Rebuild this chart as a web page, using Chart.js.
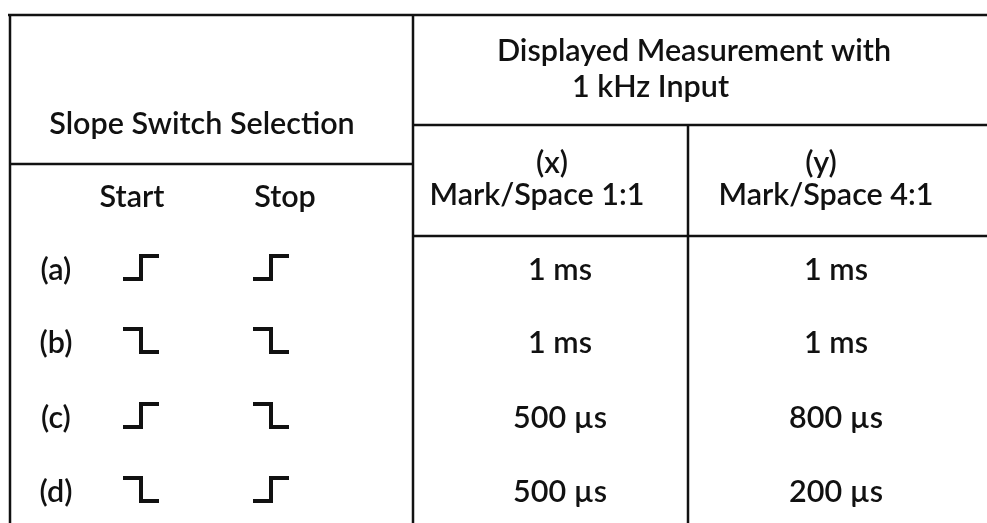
<!DOCTYPE html>
<html>
<head>
<meta charset="utf-8">
<script src="https://cdn.jsdelivr.net/npm/chart.js@4.4.1/dist/chart.umd.min.js"></script>
<style>
  html, body { margin: 0; padding: 0; background: #ffffff; }
  #wrap { width: 987px; height: 523px; position: relative; }
</style>
</head>
<body>
<div id="wrap"><canvas id="c"></canvas></div>
<script>
// ---------- data ----------
const rowLabels = ['(a)', '(b)', '(c)', '(d)'];
const startEdge = ['rise', 'fall', 'rise', 'fall'];
const stopEdge  = ['rise', 'fall', 'fall', 'rise'];
const markSpace11Us = [1000, 1000, 500, 500];   // (x) Mark/Space 1:1
const markSpace41Us = [1000, 1000, 800, 200];   // (y) Mark/Space 4:1
const headerLeft = 'Slope Switch Selection';
const subHeadersLeft = ['Start', 'Stop'];
const headerRight = ['Displayed Measurement with', '1 kHz Input'];
const seriesHeaders = [['(x)', 'Mark/Space 1:1'], ['(y)', 'Mark/Space 4:1']];

// ---------- layout (positions in scale units) ----------
const L = {
  left: 10, top: 15, split: 413, colSplit: 688, right: 987, bottom: 523,
  hdrRight: 125, hdrLeft: 164, hdrBody: 236,
  rowBase: [280, 353, 428, 502],
  rowLabelX: 56, startX: 141, stopX: 271, colX: 560, colY: 836,
  stepHalfW: 18, stepH: 23
};
const FONT_FAMILY = 'Lato, "Noto Sans", "DejaVu Sans", sans-serif';
const FONT_WEIGHT = '600';
const INK = '#111111';

function fmtTime(us) { return us >= 1000 ? (us / 1000) + ' ms' : us + ' \u00b5s'; }

// step symbol datasets (stepped lines through the chart's scales)
const stepDatasets = [];
function addStep(kind, cx, base) {
  const yLow = base - 1, yHigh = base - 1 - L.stepH;
  const pts = kind === 'rise'
    ? [{x: cx - L.stepHalfW, y: yLow}, {x: cx + L.stepHalfW, y: yHigh}]
    : [{x: cx - L.stepHalfW, y: yHigh}, {x: cx + L.stepHalfW, y: yLow}];
  stepDatasets.push({
    data: pts, showLine: true, stepped: 'middle', borderColor: INK,
    borderWidth: 4, pointRadius: 0, borderCapStyle: 'butt', borderJoinStyle: 'miter', fill: false
  });
}
rowLabels.forEach((r, i) => {
  addStep(startEdge[i], L.startX, L.rowBase[i]);
  addStep(stopEdge[i], L.stopX, L.rowBase[i]);
});

const tablePlugin = {
  id: 'tablePlugin',
  beforeDatasetsDraw(chart) {
    const ctx = chart.ctx, xs = chart.scales.x, ys = chart.scales.y;
    const X = v => xs.getPixelForValue(v), Y = v => ys.getPixelForValue(v);
    ctx.save();
    ctx.fillStyle = '#ffffff';
    ctx.fillRect(0, 0, chart.width, chart.height);
    ctx.strokeStyle = INK;
    ctx.lineWidth = 2.5;
    ctx.lineCap = 'butt';
    const seg = (x1, y1, x2, y2) => { ctx.beginPath(); ctx.moveTo(X(x1), Y(y1)); ctx.lineTo(X(x2), Y(y2)); ctx.stroke(); };
    seg(L.left - 2, L.top, L.right, L.top);
    seg(L.left, L.top, L.left, L.bottom);
    seg(L.split, L.top, L.split, L.bottom);
    seg(L.left, L.hdrLeft, L.split, L.hdrLeft);
    seg(L.split, L.hdrRight, L.right, L.hdrRight);
    seg(L.split, L.hdrBody, L.right, L.hdrBody);
    seg(L.colSplit, L.hdrRight, L.colSplit, L.bottom);

    // text
    ctx.font = FONT_WEIGHT + ' 100px ' + FONT_FAMILY;
    const ref = ctx.measureText(seriesHeaders[0][1]).width;
    const size = 100 * 215 / ref;
    ctx.font = FONT_WEIGHT + ' ' + size.toFixed(2) + 'px ' + FONT_FAMILY;
    ctx.fillStyle = INK;
    ctx.textBaseline = 'alphabetic';
    ctx.textAlign = 'center';
    const txt = (t, x, y) => ctx.fillText(t, X(x), Y(y));
    txt(headerLeft, 202, 134);
    txt(subHeadersLeft[0], 132, 207);
    txt(subHeadersLeft[1], 285, 207);
    txt(headerRight[0], 694, 61);
    ctx.textAlign = 'left';
    txt(headerRight[1], 572, 97);
    ctx.textAlign = 'center';
    txt(seriesHeaders[0][0], 552, 173);
    txt(seriesHeaders[0][1], 537, 205);
    txt(seriesHeaders[1][0], 821, 173);
    txt(seriesHeaders[1][1], 826, 205);
    rowLabels.forEach((r, i) => {
      txt(r, L.rowLabelX, L.rowBase[i]);
      txt(fmtTime(markSpace11Us[i]), L.colX, L.rowBase[i]);
      txt(fmtTime(markSpace41Us[i]), L.colY, L.rowBase[i]);
    });
    ctx.restore();
  }
};

new Chart(document.getElementById('c'), {
  type: 'scatter',
  data: { datasets: stepDatasets },
  options: {
    responsive: true, maintainAspectRatio: false, animation: false,
    layout: { padding: 0 },
    plugins: { legend: { display: false }, tooltip: { enabled: false } },
    scales: {
      x: { type: 'linear', min: 0, max: 987, display: false },
      y: { type: 'linear', min: 0, max: 523, reverse: true, display: false }
    }
  },
  plugins: [tablePlugin]
});
</script>
</body>
</html>
